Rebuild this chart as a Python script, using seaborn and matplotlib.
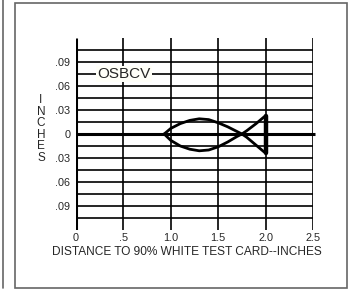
import numpy as np
import pandas as pd
import matplotlib
matplotlib.use("Agg")
import matplotlib.pyplot as plt
from matplotlib.lines import Line2D
from matplotlib.patches import Rectangle
import seaborn as sns

# ── DATA ─────────────────────────────────────────────────────────────────────
upper_x = [0.93, 1.00, 1.10, 1.20, 1.30, 1.40, 1.50, 1.60, 1.70, 1.75, 1.80, 1.90, 2.00]
upper_y = [0.000, 0.007, 0.013, 0.017, 0.019, 0.018, 0.014, 0.009, 0.003, 0.000, -0.004, -0.014, -0.024]
lower_x = [0.93, 1.00, 1.10, 1.20, 1.30, 1.40, 1.50, 1.60, 1.70, 1.75, 1.80, 1.90, 2.00]
lower_y = [0.000, -0.008, -0.015, -0.019, -0.021, -0.020, -0.016, -0.010, -0.003, 0.000, 0.004, 0.013, 0.023]
tail_x = [2.00, 2.00]
tail_y = [-0.024, 0.023]

x_ticks = [0, 0.5, 1.0, 1.5, 2.0, 2.5]
x_labels = ["0", ".5", "1.0", "1.5", "2.0", "2.5"]
y_ticks = [0.09, 0.06, 0.03, 0, -0.03, -0.06, -0.09]
y_labels = [".09", ".06", ".03", "0", ".03", ".06", ".09"]
grid_y = [0.105, 0.09, 0.075, 0.06, 0.045, 0.03, 0.015,
          -0.015, -0.03, -0.045, -0.06, -0.075, -0.09, -0.105]

curve_name = "OSBCV"
x_title = "DISTANCE TO 90% WHITE TEST CARD--INCHES"
y_title = "INCHES"

# ── STYLE ────────────────────────────────────────────────────────────────────
sns.set_style("white")
plt.rcParams["font.family"] = ["Liberation Sans", "DejaVu Sans"]

fig = plt.figure(figsize=(3.53, 2.91), dpi=100)
ax = fig.add_axes([76 / 353, 1 - 230 / 291, 237 / 353, 192 / 291])

# frame around panel + edge of neighbouring panel
fig.add_artist(Rectangle((15 / 353, 3 / 291), 332 / 353, 285 / 291,
                         transform=fig.transFigure, fill=False,
                         edgecolor="#666666", linewidth=1.2))
fig.add_artist(Line2D([3 / 353, 3 / 353], [3 / 291, 1], transform=fig.transFigure,
                      color="#666666", linewidth=1.2))

# grid
ax.hlines(grid_y, 0, 2.5, color="black", linewidth=1.2, zorder=1)
ax.vlines(x_ticks[1:], -0.12, 0.12, color="black", linewidth=1.2, zorder=1)
ax.hlines([0], 0, 2.52, color="black", linewidth=2.2, zorder=1, clip_on=False)
ax.vlines([0], -0.12, 0.12, color="black", linewidth=2.2, zorder=2)

# fish curve
df = pd.DataFrame({
    "x": upper_x + lower_x,
    "y": upper_y + lower_y,
    "part": ["upper"] * len(upper_x) + ["lower"] * len(lower_x),
})
sns.lineplot(data=df, x="x", y="y", units="part", estimator=None, sort=False,
             color="black", linewidth=2.0, ax=ax, zorder=3)
sns.lineplot(x=tail_x, y=tail_y, color="black", linewidth=3.2, ax=ax,
             estimator=None, zorder=3)

ax.text(0.51, 0.075, curve_name, fontsize=11, ha="center", va="center",
        bbox=dict(facecolor="#fffff8", edgecolor="none", pad=1.0), zorder=4)

ax.set_xlim(0, 2.5)
ax.set_ylim(-0.12, 0.12)
ax.set_xticks(x_ticks)
ax.set_xticklabels(x_labels, fontsize=7.8)
ax.set_yticks(y_ticks)
ax.set_yticklabels(y_labels, fontsize=7.8)
ax.tick_params(axis="y", length=0, pad=4)
ax.tick_params(axis="x", length=0, pad=2)
ax.set_xlabel("")
ax.set_ylabel("")
for s in ax.spines.values():
    s.set_visible(False)

# axis titles
fig.text(187 / 353, 1 - 252 / 291, x_title, fontsize=8.6, ha="center", va="center")
for i, ch in enumerate(y_title):
    fig.text(41 / 353, 1 - (100 + i * 11.6) / 291, ch, fontsize=8.5,
             ha="center", va="center")

fig.savefig("out.png", dpi=100)
